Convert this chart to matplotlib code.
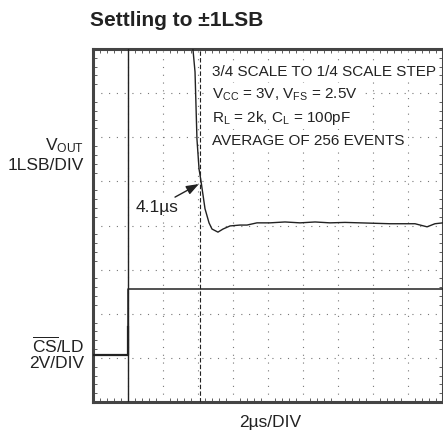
import matplotlib
matplotlib.use("Agg")
import matplotlib.pyplot as plt
from matplotlib import font_manager
from matplotlib.ticker import MultipleLocator

# pick a condensed face if we have one
names = {f.name for f in font_manager.fontManager.ttflist}
FONT = "Liberation Sans Narrow" if "Liberation Sans Narrow" in names else "Liberation Sans"
NOTE_FS = 12.5 if FONT.endswith("Narrow") else 11

plt.rcParams.update({
    "font.family": [FONT, "DejaVu Sans"],
    "mathtext.fontset": "custom",
    "mathtext.rm": FONT,
    "mathtext.it": FONT,
    "mathtext.bf": FONT,
})

INK = "#222222"
FRAME = "#444444"

# -- data: time in us, amplitude in scope divisions (0..8) --
vout_t = [5.71, 5.83, 5.94, 6.06, 6.17, 6.40, 6.63, 6.80, 7.14, 7.43, 7.83,
          8.40, 8.80, 9.37, 10.11, 10.97, 11.83, 12.69, 13.54, 14.40, 15.26,
          16.11, 16.97, 17.83, 18.40, 19.09, 19.54, 20.0]
vout_v = [8.00, 7.48, 5.96, 5.28, 5.01, 4.38, 4.06, 3.92, 3.85, 3.92, 3.99,
          4.01, 4.01, 4.06, 4.06, 4.08, 4.06, 4.08, 4.06, 4.07, 4.06,
          4.05, 4.04, 4.04, 4.04, 3.97, 4.04, 4.06]

cs_t = [0.0, 2.0, 2.0, 2.0, 20.0]
cs_v = [1.07, 1.07, 1.70, 2.56, 2.56]

edge_t = 2.0        # CS/LD rising edge
settle_t = 6.1      # edge + 4.1us

note_lines = [
    "3/4 SCALE TO 1/4 SCALE STEP",
    r"V$_{\mathrm{CC}}$ = 3V, V$_{\mathrm{FS}}$ = 2.5V",
    r"R$_{\mathrm{L}}$ = 2k, C$_{\mathrm{L}}$ = 100pF",
    "AVERAGE OF 256 EVENTS",
]

fig = plt.figure(figsize=(4.43, 4.31), dpi=100)
ax = fig.add_axes([93 / 443, 28 / 431, 350 / 443, 353 / 431])
ax.set_xlim(0, 20)
ax.set_ylim(0, 8)

# graticule
ax.xaxis.set_major_locator(MultipleLocator(2))
ax.yaxis.set_major_locator(MultipleLocator(1))
ax.xaxis.set_minor_locator(MultipleLocator(0.4))
ax.yaxis.set_minor_locator(MultipleLocator(0.2))
ax.grid(True, which="major", color="#777777", lw=0.8, linestyle=(0, (1, 6)))
ax.tick_params(which="both", direction="in", top=True, right=True,
               labelbottom=False, labelleft=False, color=FRAME)
ax.tick_params(which="major", length=0)
ax.tick_params(which="minor", length=3, width=0.6)
for s in ax.spines.values():
    s.set_linewidth(2.2)
    s.set_color(FRAME)

# markers
ax.axvline(edge_t, color=INK, lw=1.0, zorder=3)
ax.axvline(settle_t, color=INK, lw=0.8, dashes=(4, 2), zorder=3)

# traces
ax.plot(vout_t, vout_v, color=INK, lw=1.0, zorder=4)
ax.plot(cs_t[:3], cs_v[:3], color=INK, lw=1.6, zorder=4)
ax.plot(cs_t[2:], cs_v[2:], color=INK, lw=1.1, zorder=4)

# annotations
for i, line in enumerate(note_lines):
    ax.text(6.8, 7.5 - i * 0.52, line, fontsize=NOTE_FS, color=INK,
            ha="left", va="center", zorder=5,
            bbox=dict(fc="white", ec="none", pad=2.2))

ax.annotate("4.1µs", xy=(settle_t - 0.05, 4.94), xytext=(3.66, 4.42),
            fontsize=12.5, color=INK, ha="center", va="center",
            bbox=dict(fc="white", ec="none", pad=0.3),
            arrowprops=dict(arrowstyle="-|>,head_length=0.6,head_width=0.22",
                            color=INK, lw=1.0, shrinkA=3, shrinkB=0))

# labels outside the graticule
fig.text(90 / 443, 1 - 20 / 431, "Settling to ±1LSB", fontsize=15,
         fontweight="bold", color=INK, ha="left", va="center")
fig.text(84 / 443, 1 - 146 / 431, r"V$_{\mathrm{OUT}}$", fontsize=12.5,
         color=INK, ha="right", va="center")
fig.text(84 / 443, 1 - 166 / 431, "1LSB/DIV", fontsize=12.5,
         color=INK, ha="right", va="center")
fig.text(84 / 443, 1 - 346 / 431, r"$\overline{\mathrm{CS}}$/LD", fontsize=12.5,
         color=INK, ha="right", va="center")
fig.text(84 / 443, 1 - 364 / 431, "2V/DIV", fontsize=12.5,
         color=INK, ha="right", va="center")
fig.text(270 / 443, 1 - 423 / 431, "2µs/DIV", fontsize=12.5,
         color=INK, ha="center", va="center")

fig.savefig("out.png", dpi=100)
